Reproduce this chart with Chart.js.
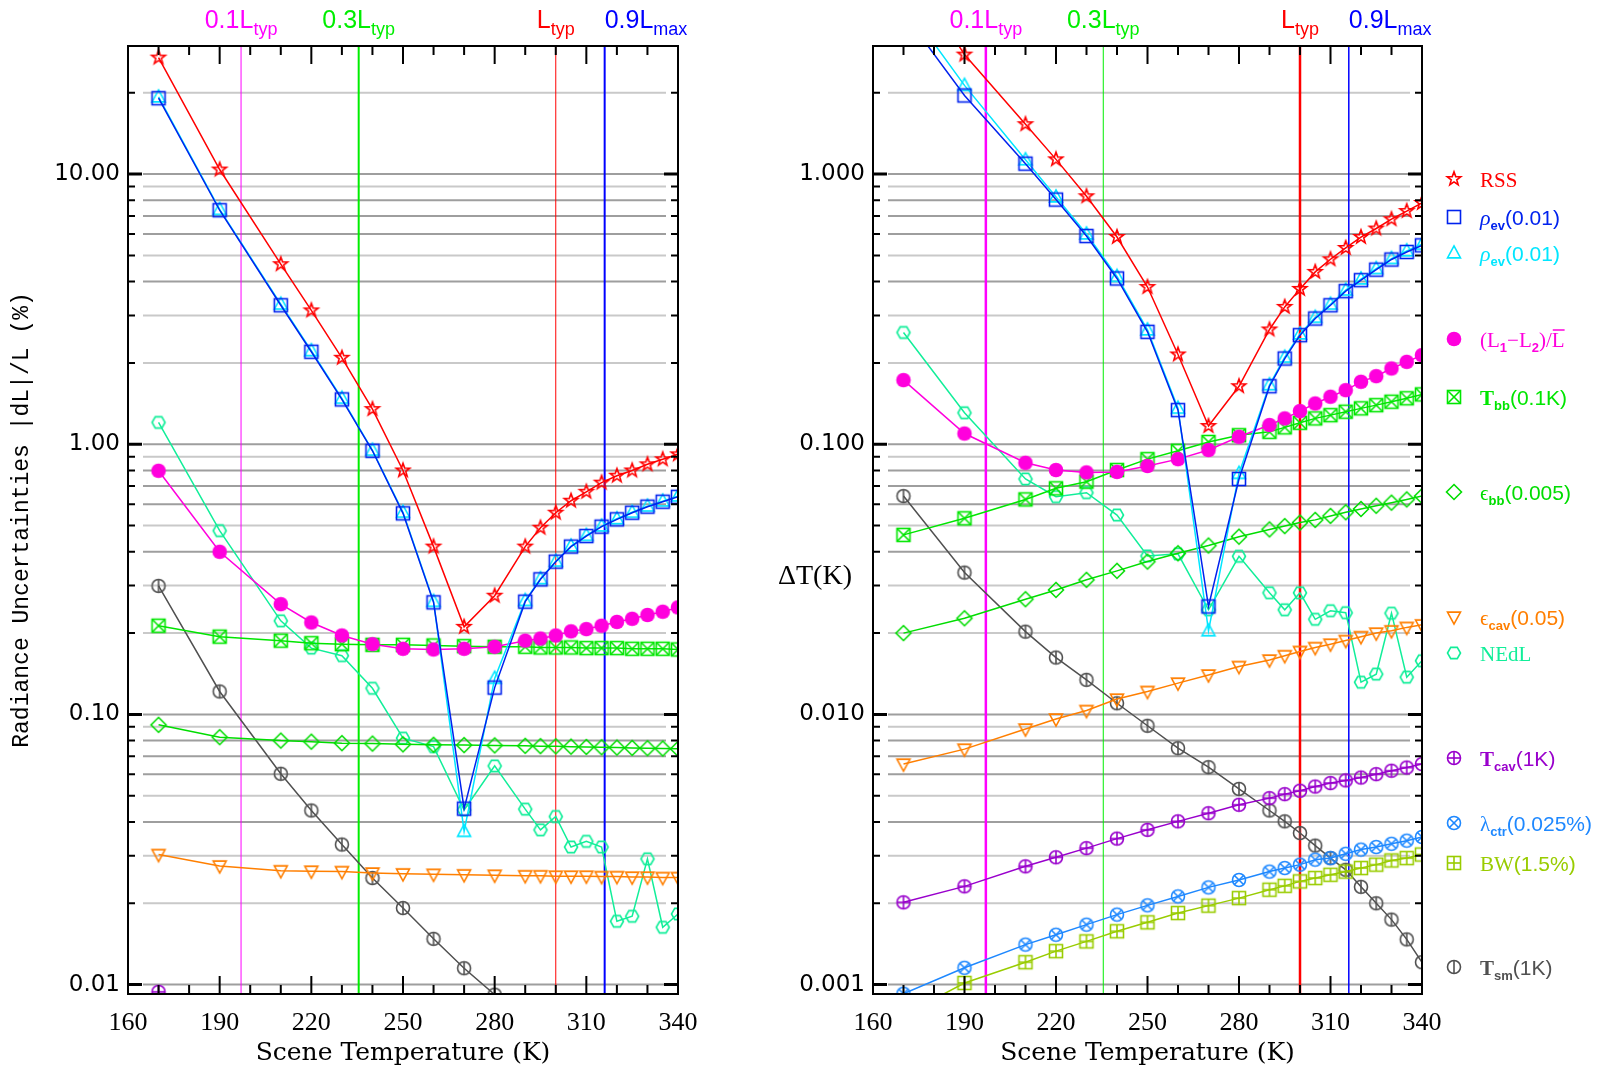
<!DOCTYPE html>
<html>
<head>
<meta charset="utf-8">
<script src="https://cdn.jsdelivr.net/npm/chart.js@4"></script>
<style>
  html, body { margin: 0; padding: 0; background: #fff; }
  #wrap { position: relative; width: 1603px; height: 1070px; overflow: hidden; }
  canvas { position: absolute; top: 0; }
  #left { left: 0; }
  #right { left: 740px; }
</style>
</head>
<body>
<div id="wrap">
  <canvas id="left" width="740" height="1070"></canvas>
  <canvas id="right" width="863" height="1070"></canvas>
</div>
<script>
// scene temperatures (K)
const temps = [170, 190, 210, 220, 230, 240, 250, 260, 270, 280, 290, 295, 300, 305, 310, 315, 320, 325, 330, 335, 340];
const xTicks = [160, 190, 220, 250, 280, 310, 340];
const yTicksLeft = [0.01, 0.1, 1, 10];
const yTicksRight = [0.001, 0.01, 0.1, 1];

// reference radiance levels
const refT = [197, 235.5, 300, 316];
const refMain = ['0.1L', '0.3L', 'L', '0.9L'];
const refSub = ['typ', 'typ', 'typ', 'max'];

// left panel: radiance uncertainties |dL|/L (%)
const rssL   = [27.0, 10.4, 4.64, 3.13, 2.09, 1.35, 0.80, 0.418, 0.211, 0.275, 0.418, 0.491, 0.558, 0.618, 0.667, 0.721, 0.765, 0.80, 0.843, 0.88, 0.918];
const rhoSqL = [19.1, 7.35, 3.27, 2.20, 1.466, 0.946, 0.555, 0.260, 0.0448, 0.1257, 0.2615, 0.3163, 0.3677, 0.418, 0.4575, 0.4955, 0.5275, 0.558, 0.5875, 0.613, 0.639];
const rhoTrL = [19.3, 7.4, 3.3, 2.22, 1.48, 0.95, 0.56, 0.262, 0.0369, 0.136, 0.264, 0.318, 0.369, 0.42, 0.46, 0.498, 0.53, 0.56, 0.59, 0.616, 0.643];
const dLL    = [0.798, 0.40, 0.256, 0.219, 0.196, 0.182, 0.175, 0.174, 0.175, 0.178, 0.1875, 0.191, 0.196, 0.203, 0.207, 0.213, 0.220, 0.226, 0.2335, 0.240, 0.249];
const tbbL   = [0.213, 0.194, 0.1875, 0.1835, 0.182, 0.181, 0.181, 0.180, 0.179, 0.178, 0.178, 0.177, 0.177, 0.177, 0.176, 0.176, 0.176, 0.175, 0.175, 0.175, 0.174];
const ebbL   = [0.0915, 0.0824, 0.080, 0.0793, 0.0783, 0.078, 0.0775, 0.0772, 0.077, 0.0768, 0.0765, 0.0763, 0.0762, 0.076, 0.0758, 0.0756, 0.0754, 0.0752, 0.075, 0.0748, 0.0746];
const ecavL  = [0.0303, 0.0275, 0.0264, 0.0263, 0.0262, 0.0259, 0.0257, 0.0256, 0.0255, 0.0254, 0.0253, 0.0253, 0.0252, 0.0252, 0.0252, 0.0251, 0.0251, 0.025, 0.025, 0.0249, 0.0249];
const nedlL  = [1.205, 0.479, 0.222, 0.176, 0.165, 0.125, 0.0817, 0.076, 0.0443, 0.0645, 0.0446, 0.0374, 0.0419, 0.0323, 0.0339, 0.0323, 0.01715, 0.0179, 0.0292, 0.0163, 0.01826];
const tcavL  = [0.0094, null, null, null, null, null, null, null, null, null, null, null, null, null, null, null, null, null, null, null, null];
const tsmL   = [0.299, 0.1216, 0.0603, 0.0441, 0.033, 0.0248, 0.0192, 0.01477, 0.0115, 0.00918, null, null, null, null, null, null, null, null, null, null, null];

// right panel: dT (K)
const rssR   = [6.2, 2.77, 1.53, 1.134, 0.828, 0.585, 0.382, 0.215, 0.1168, 0.164, 0.266, 0.3225, 0.376, 0.4345, 0.484, 0.533, 0.585, 0.629, 0.681, 0.73, 0.782];
const rhoSqR = [3.95, 1.955, 1.093, 0.805, 0.59, 0.4108, 0.2607, 0.1338, 0.0251, 0.0744, 0.164, 0.2077, 0.2535, 0.292, 0.327, 0.3687, 0.405, 0.443, 0.483, 0.515, 0.545];
const rhoTrR = [4.36, 2.13, 1.13, 0.823, 0.60, 0.418, 0.265, 0.136, 0.0204, 0.078, 0.166, 0.210, 0.256, 0.295, 0.330, 0.372, 0.409, 0.447, 0.487, 0.52, 0.55];
const dLR    = [0.1728, 0.1096, 0.0854, 0.0803, 0.0787, 0.079, 0.0831, 0.0881, 0.0952, 0.1066, 0.1178, 0.1247, 0.1327, 0.1416, 0.150, 0.1586, 0.1703, 0.1787, 0.1908, 0.2019, 0.2137];
const tbbR   = [0.0462, 0.0532, 0.0625, 0.0687, 0.0727, 0.0803, 0.0881, 0.0946, 0.102, 0.108, 0.1112, 0.1155, 0.1201, 0.1247, 0.1282, 0.132, 0.1358, 0.1396, 0.1437, 0.148, 0.153];
const ebbR   = [0.020, 0.0227, 0.0267, 0.0289, 0.0315, 0.034, 0.0368, 0.0395, 0.0422, 0.0455, 0.0484, 0.0498, 0.0513, 0.0525, 0.0543, 0.056, 0.0576, 0.0592, 0.0608, 0.0625, 0.0643];
const ecavR  = [0.00655, 0.00744, 0.00883, 0.00962, 0.01034, 0.0114, 0.01216, 0.01306, 0.014, 0.01504, 0.0159, 0.0165, 0.0171, 0.01768, 0.0182, 0.01877, 0.0194, 0.020, 0.0204, 0.021, 0.02146];
const nedlR  = [0.2594, 0.1308, 0.0744, 0.064, 0.0662, 0.0547, 0.0386, 0.0393, 0.0244, 0.0385, 0.0282, 0.0244, 0.0282, 0.0225, 0.0242, 0.0238, 0.01316, 0.0141, 0.0237, 0.01374, 0.0158];
const tcavR  = [0.002016, 0.00231, 0.00274, 0.00296, 0.0032, 0.00347, 0.00374, 0.00402, 0.00431, 0.00463, 0.0049, 0.00507, 0.00522, 0.00541, 0.00557, 0.0057, 0.00584, 0.00601, 0.00619, 0.00636, 0.00655];
const lamR   = [0.000925, 0.001154, 0.001406, 0.00153, 0.001667, 0.001816, 0.001965, 0.00212, 0.00229, 0.00244, 0.00262, 0.0027, 0.00278, 0.0029, 0.00294, 0.00305, 0.00316, 0.00323, 0.00332, 0.00341, 0.00352];
const bwR    = [0.00077, 0.001014, 0.00121, 0.00133, 0.001445, 0.001575, 0.0017, 0.00184, 0.00196, 0.00209, 0.002245, 0.00232, 0.00241, 0.00248, 0.00255, 0.00262, 0.0027, 0.00278, 0.00288, 0.00294, 0.00303];
const tsmR   = [0.0643, 0.0335, 0.02025, 0.01624, 0.01343, 0.011, 0.00908, 0.0075, 0.00638, 0.0053, 0.00441, 0.00402, 0.00364, 0.00327, 0.00294, 0.00266, 0.0023, 0.002, 0.00174, 0.00147, 0.00121];

const C = {
  rss: '#ff0000', rhoSq: '#0022ee', rhoTr: '#00e6ff', dL: '#ff00dd', tbb: '#00e600', ebb: '#00dd00',
  ecav: '#ff7f00', nedl: '#11ee99', tcav: '#9900cc', lam: '#1e88ff', bw: '#99cc00', tsm: '#505050'
};
const refColors = ['#ff00ff', '#00ee00', '#ff0000', '#0000ff'];

// small canvases used as point styles
function marker(kind, color) {
  const c = document.createElement('canvas');
  c.width = c.height = 20;
  const g = c.getContext('2d');
  g.translate(10, 10);
  g.strokeStyle = color; g.fillStyle = color; g.lineWidth = 1.6;
  const r = 6.5;
  const poly = (pts) => { g.beginPath(); pts.forEach((p, i) => i ? g.lineTo(p[0], p[1]) : g.moveTo(p[0], p[1])); g.closePath(); g.stroke(); };
  const seg = (a, b, c2, d) => { g.beginPath(); g.moveTo(a, b); g.lineTo(c2, d); g.stroke(); };
  const circ = () => { g.beginPath(); g.arc(0, 0, r, 0, Math.PI * 2); g.stroke(); };
  if (kind === 'star') {
    const p = [];
    for (let i = 0; i < 10; i++) {
      const a = -Math.PI / 2 + i * Math.PI / 5, rr = i % 2 ? r * 0.45 : r * 1.1;
      p.push([rr * Math.cos(a), rr * Math.sin(a)]);
    }
    poly(p);
  } else if (kind === 'square') {
    g.strokeRect(-r, -r, 2 * r, 2 * r);
  } else if (kind === 'triangle') {
    poly([[0, -r * 1.1], [r, r * 0.75], [-r, r * 0.75]]);
  } else if (kind === 'dot') {
    g.beginPath(); g.arc(0, 0, r + 0.8, 0, Math.PI * 2); g.fill();
  } else if (kind === 'squareX') {
    g.strokeRect(-r, -r, 2 * r, 2 * r); seg(-r, -r, r, r); seg(r, -r, -r, r);
  } else if (kind === 'diamond') {
    poly([[0, -r * 1.15], [r * 1.15, 0], [0, r * 1.15], [-r * 1.15, 0]]);
  } else if (kind === 'tridown') {
    poly([[-r, -r * 0.75], [r, -r * 0.75], [0, r * 1.1]]);
  } else if (kind === 'hexagon') {
    const p = [];
    for (let i = 0; i < 6; i++) p.push([r * Math.cos(i * Math.PI / 3), r * Math.sin(i * Math.PI / 3)]);
    poly(p);
  } else if (kind === 'circlePlus') {
    circ(); seg(-r, 0, r, 0); seg(0, -r, 0, r);
  } else if (kind === 'circleX') {
    circ(); const d = r * 0.7; seg(-d, -d, d, d); seg(d, -d, -d, d);
  } else if (kind === 'squarePlus') {
    g.strokeRect(-r, -r, 2 * r, 2 * r); seg(-r, 0, r, 0); seg(0, -r, 0, r);
  } else if (kind === 'circleBar') {
    circ(); seg(0, -r, 0, r);
  }
  return c;
}

const kinds = {
  rss: 'star', rhoSq: 'square', rhoTr: 'triangle', dL: 'dot', tbb: 'squareX', ebb: 'diamond',
  ecav: 'tridown', nedl: 'hexagon', tcav: 'circlePlus', lam: 'circleX', bw: 'squarePlus', tsm: 'circleBar'
};
const marks = {};
Object.keys(kinds).forEach(k => { marks[k] = marker(kinds[k], C[k]); });

function ds(key, vals) {
  return {
    label: key,
    data: temps.map((t, i) => ({ x: t, y: vals[i] })),
    borderColor: C[key], backgroundColor: C[key], borderWidth: 1.5,
    pointStyle: marks[key], pointRadius: 7, pointHoverRadius: 7,
    tension: 0, clip: 0, spanGaps: false
  };
}

function logGrid(min, max) {
  const out = [];
  for (let k = Math.floor(Math.log10(min)); k <= Math.ceil(Math.log10(max)); k++) {
    for (let m = 1; m <= 9; m++) {
      const v = m * Math.pow(10, k);
      if (v >= min * 0.999 && v <= max) out.push({ v, m });
    }
  }
  return out;
}

function drawRich(ctx, segs, x, y, align, color) {
  let w = 0;
  segs.forEach(s => { ctx.font = s.font; s.w = ctx.measureText(s.t).width; w += s.w; });
  let cx = align === 'center' ? x - w / 2 : x;
  ctx.fillStyle = color; ctx.strokeStyle = color;
  ctx.textAlign = 'left'; ctx.textBaseline = 'alphabetic';
  segs.forEach(s => {
    ctx.font = s.font;
    ctx.fillText(s.t, cx, y + (s.dy || 0));
    if (s.over) {
      ctx.lineWidth = 1.5;
      ctx.beginPath(); ctx.moveTo(cx + 1, y - 17); ctx.lineTo(cx + s.w, y - 17); ctx.stroke();
    }
    cx += s.w;
  });
}

function makeFrame(cfg) {
  return {
    id: 'frame',
    beforeDatasetsDraw(chart) {
      const { ctx, chartArea: a, scales: { x, y } } = chart;
      ctx.save();
      logGrid(y.min, y.max).forEach(({ v, m }) => {
        const py = y.getPixelForValue(v);
        ctx.strokeStyle = [1, 4, 6, 7, 8].includes(m) ? '#9e9e9e' : '#c9c9c9';
        ctx.lineWidth = 2;
        ctx.beginPath(); ctx.moveTo(a.left + 15, py); ctx.lineTo(a.right - 12, py); ctx.stroke();
      });
      refT.forEach((t, i) => {
        const px = x.getPixelForValue(t);
        ctx.strokeStyle = refColors[i]; ctx.lineWidth = cfg.refWidths[i];
        ctx.beginPath(); ctx.moveTo(px, a.top); ctx.lineTo(px, a.bottom); ctx.stroke();
      });
      ctx.restore();
    },
    afterDatasetsDraw(chart) {
      const { ctx, chartArea: a, scales: { x, y } } = chart;
      ctx.save();
      ctx.strokeStyle = '#000';
      logGrid(y.min, y.max).forEach(({ v, m }) => {
        const py = y.getPixelForValue(v);
        const len = m === 1 ? 14 : 7;
        ctx.lineWidth = m === 1 ? 3 : 2;
        ctx.beginPath();
        ctx.moveTo(a.left, py); ctx.lineTo(a.left + len, py);
        ctx.moveTo(a.right, py); ctx.lineTo(a.right - len, py);
        ctx.stroke();
      });
      ctx.lineWidth = 2;
      for (let t = x.min; t <= x.max; t += 10) {
        const px = x.getPixelForValue(t);
        const len = (t - x.min) % 30 === 0 ? 18 : 9;
        ctx.beginPath();
        ctx.moveTo(px, a.top); ctx.lineTo(px, a.top + len);
        ctx.moveTo(px, a.bottom); ctx.lineTo(px, a.bottom - len);
        ctx.stroke();
      }
      ctx.strokeRect(a.left, a.top, a.right - a.left, a.bottom - a.top);
      // reference level labels above the frame
      refT.forEach((t, i) => {
        const px = x.getPixelForValue(t);
        drawRich(ctx, [
          { t: refMain[i], font: '25px "Liberation Sans"' },
          { t: refSub[i], font: '18px "Liberation Sans"', dy: 7 }
        ], px, 28, i === 3 ? 'left' : 'center', refColors[i]);
      });
      if (cfg.extra) cfg.extra(ctx, a);
      ctx.restore();
    }
  };
}

const serif = '21px "Liberation Serif"';
const serifB = 'bold 21px "Liberation Serif"';
const serifI = 'italic 22px "Liberation Serif"';
const sans = '21px "Liberation Sans"';
const sub = 'bold 13px "Liberation Sans"';
const legendItems = [
  { k: 'rss', segs: [{ t: 'RSS', font: serif }] },
  { k: 'rhoSq', segs: [{ t: 'ρ', font: serifI }, { t: 'ev', font: sub, dy: 5 }, { t: '(0.01)', font: sans }] },
  { k: 'rhoTr', segs: [{ t: 'ρ', font: serifI }, { t: 'ev', font: sub, dy: 5 }, { t: '(0.01)', font: sans }] },
  { k: 'dL', segs: [{ t: '(L', font: serif }, { t: '1', font: sub, dy: 5 }, { t: '−L', font: serif }, { t: '2', font: sub, dy: 5 }, { t: ')/', font: serif }, { t: 'L', font: serif, over: true }] },
  { k: 'tbb', segs: [{ t: 'T', font: serifB }, { t: 'bb', font: sub, dy: 5 }, { t: '(0.1K)', font: sans }] },
  { k: 'ebb', segs: [{ t: 'ϵ', font: serif }, { t: 'bb', font: sub, dy: 5 }, { t: '(0.005)', font: sans }] },
  { k: 'ecav', segs: [{ t: 'ϵ', font: serif }, { t: 'cav', font: sub, dy: 5 }, { t: '(0.05)', font: sans }] },
  { k: 'nedl', segs: [{ t: 'NEdL', font: serif }] },
  { k: 'tcav', segs: [{ t: 'T', font: serifB }, { t: 'cav', font: sub, dy: 5 }, { t: '(1K)', font: sans }] },
  { k: 'lam', segs: [{ t: 'λ', font: serif }, { t: 'ctr', font: sub, dy: 5 }, { t: '(0.025%)', font: sans }] },
  { k: 'bw', segs: [{ t: 'BW', font: serif }, { t: '(1.5%)', font: sans }] },
  { k: 'tsm', segs: [{ t: 'T', font: serifB }, { t: 'sm', font: sub, dy: 5 }, { t: '(1K)', font: sans }] }
];
const legendY = [179, 217, 253, 339, 397, 492, 617, 653, 758, 823, 863, 967];

function baseOptions(o) {
  return {
    responsive: false,
    animation: false,
    events: [],
    layout: { padding: { left: 0, top: 46, right: o.padRight, bottom: 0 } },
    plugins: { legend: { display: false }, tooltip: { enabled: false } },
    scales: {
      x: {
        type: 'linear', min: 160, max: 340,
        grid: { display: false, drawTicks: false }, border: { display: false },
        afterBuildTicks: s => { s.ticks = xTicks.map(v => ({ value: v })); },
        afterFit: s => { s.height = 76; },
        ticks: { color: '#000', padding: 14, maxRotation: 0, autoSkip: false, font: { family: 'Liberation Serif', size: 26 } },
        title: { display: true, text: 'Scene Temperature (K)', color: '#000', padding: { top: 0, bottom: 2 }, font: { family: 'DejaVu Serif', size: 25 } }
      },
      y: {
        type: 'logarithmic', min: o.yMin, max: o.yMax,
        grid: { display: false, drawTicks: false }, border: { display: false },
        afterBuildTicks: s => { s.ticks = o.yTicks.map(v => ({ value: v })); },
        afterFit: s => { s.width = o.yWidth; },
        ticks: { color: '#000', padding: 8, autoSkip: false, font: { family: 'DejaVu Sans', size: 23 }, callback: v => Number(v).toFixed(o.digits) },
        title: o.yTitle
      }
    }
  };
}

new Chart(document.getElementById('left'), {
  type: 'line',
  data: {
    datasets: [
      ds('rss', rssL), ds('rhoSq', rhoSqL), ds('rhoTr', rhoTrL), ds('dL', dLL), ds('tbb', tbbL), ds('ebb', ebbL),
      ds('ecav', ecavL), ds('nedl', nedlL), ds('tcav', tcavL), ds('tsm', tsmL)
    ]
  },
  options: baseOptions({
    padRight: 62, yWidth: 128, yMin: 0.00923, yMax: 29.8, yTicks: yTicksLeft, digits: 2,
    yTitle: { display: true, text: 'Radiance Uncertainties |dL|/L (%)', color: '#000', padding: { top: 8, bottom: 0 }, font: { family: 'Liberation Mono', size: 23 } }
  }),
  plugins: [makeFrame({ refWidths: [1, 2, 1, 2] })]
});

new Chart(document.getElementById('right'), {
  type: 'line',
  data: {
    datasets: [
      ds('rss', rssR), ds('rhoSq', rhoSqR), ds('rhoTr', rhoTrR), ds('dL', dLR), ds('tbb', tbbR), ds('ebb', ebbR),
      ds('ecav', ecavR), ds('nedl', nedlR), ds('tcav', tcavR), ds('lam', lamR), ds('bw', bwR), ds('tsm', tsmR)
    ]
  },
  options: baseOptions({
    padRight: 181, yWidth: 133, yMin: 0.000923, yMax: 2.98, yTicks: yTicksRight, digits: 3,
    yTitle: { display: false }
  }),
  plugins: [makeFrame({
    refWidths: [2.5, 1, 2.5, 1.5],
    extra: (ctx, a) => {
      ctx.fillStyle = '#000';
      ctx.font = '28px "Liberation Serif"';
      ctx.textAlign = 'center'; ctx.textBaseline = 'middle';
      ctx.fillText('ΔT(K)', 75, 577);
      legendItems.forEach((it, i) => {
        const yy = legendY[i];
        ctx.drawImage(marks[it.k], 714 - 10, yy - 10);
        drawRich(ctx, it.segs, 740, yy + 8, 'left', C[it.k]);
      });
    }
  })]
});
</script>
</body>
</html>
